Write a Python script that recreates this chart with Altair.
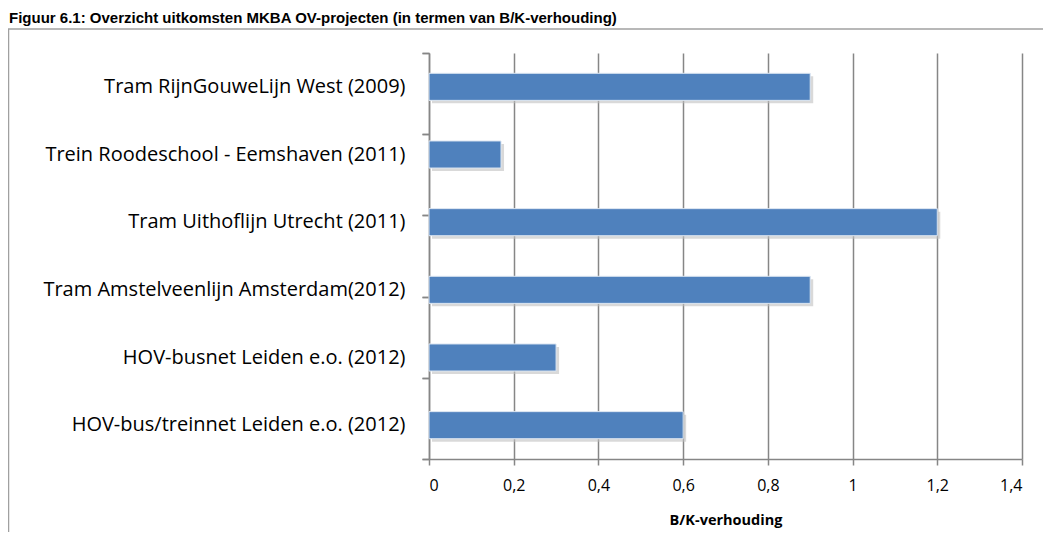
import altair as alt
import pandas as pd

projects = [
    "Tram RijnGouweLijn West (2009)",
    "Trein Roodeschool - Eemshaven (2011)",
    "Tram Uithoflijn Utrecht (2011)",
    "Tram Amstelveenlijn Amsterdam(2012)",
    "HOV-busnet Leiden e.o. (2012)",
    "HOV-bus/treinnet Leiden e.o. (2012)",
]
ratios = [0.9, 0.17, 1.2, 0.9, 0.3, 0.6]
x_ticks = [0, 0.2, 0.4, 0.6, 0.8, 1.0, 1.2, 1.4]
fig_title = "Figuur 6.1: Overzicht uitkomsten MKBA OV-projecten (in termen van B/K-verhouding)"
x_title = "B/K-verhouding"

df = pd.DataFrame({"project": projects, "ratio": ratios})

FONT = "Open Sans"
GRID = "#868686"
BAR = "#4F81BD"

x_enc = alt.X(
    "ratio:Q",
    scale=alt.Scale(domain=[0, 1.4], nice=False),
    axis=alt.Axis(
        values=x_ticks,
        labelExpr="replace(toString(round(datum.value*10)/10), '.', ',')",
        grid=True, gridColor=GRID, gridWidth=1.5,
        domainColor=GRID, domainWidth=1.5,
        tickColor=GRID, tickSize=6, tickWidth=1.5,
        labelFont=FONT, labelFontSize=16, labelColor="#000", labelPadding=12,
        title=x_title, titleFont=FONT, titleFontSize=14.5, titleFontWeight="bold",
        titleColor="#000", titlePadding=20,
    ),
)

y_bar = alt.Y(
    "project:N", sort=projects,
    scale=alt.Scale(paddingInner=0.6, paddingOuter=0.3),
    axis=alt.Axis(
        title=None, ticks=False, domain=False, labelPadding=24,
        labelFont=FONT, labelFontSize=20, labelColor="#000", labelLimit=420,
        orient="left",
    ),
)

shadow = alt.Chart(df).mark_bar(color="#bfbfbf", opacity=0.6, xOffset=3, yOffset=3).encode(
    x=x_enc, y=y_bar
)
bars = alt.Chart(df).mark_bar(color=BAR, stroke="#dce6f2", strokeWidth=1).encode(
    x=x_enc, y=y_bar
)
bar_layer = alt.layer(shadow, bars)

def tick_layer(pos, domain):
    return alt.Chart(df).mark_point(opacity=0).encode(
        y=alt.Y(
            "project:N", sort=projects,
            scale=alt.Scale(padding=0),
            axis=alt.Axis(
                title=None, labels=False, ticks=True, tickSize=7, tickWidth=1.5,
                tickColor=GRID, domain=domain, domainColor=GRID, domainWidth=1.5,
                bandPosition=pos, orient="left",
            ),
        )
    )

ticks_top = tick_layer(0, True)
ticks_bottom = tick_layer(1, False)

deco_data = alt.Data(values=[{"t": fig_title}])
title_mark = alt.Chart(deco_data).mark_text(
    align="left", baseline="alphabetic", font="Liberation Sans", fontSize=15,
    fontWeight="bold", color="#000",
).encode(text="t:N", x=alt.value(-420), y=alt.value(-30))

border_top = alt.Chart(deco_data).mark_rule(color="#a0a0a0", strokeWidth=1.5).encode(
    x=alt.value(-421), x2=alt.value(614), y=alt.value(-24)
)
border_left = alt.Chart(deco_data).mark_rule(color="#a0a0a0", strokeWidth=1.5).encode(
    x=alt.value(-420.5), y=alt.value(-24), y2=alt.value(480)
)

chart = (
    alt.layer(bar_layer, ticks_top, ticks_bottom, title_mark, border_top, border_left)
    .resolve_scale(y="independent")
    .resolve_axis(y="independent")
    .properties(
        width=593, height=406,
        autosize=alt.AutoSizeParams(type="none"),
        padding={"left": 421, "top": 45, "right": 21, "bottom": 73},
    )
    .configure_view(stroke=None)
)

chart.save("out.html", embed_options={"renderer": "svg", "actions": False})
